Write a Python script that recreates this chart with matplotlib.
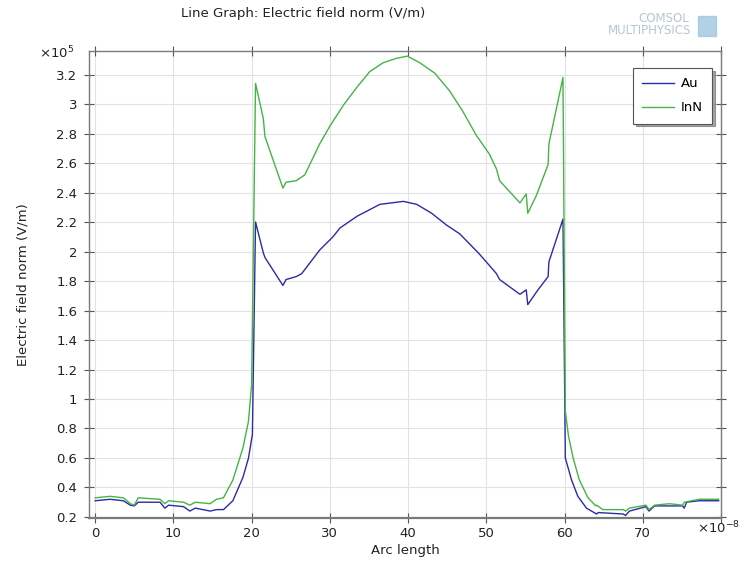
import matplotlib
matplotlib.use("Agg")
import matplotlib.pyplot as plt
from matplotlib.patches import Rectangle
from matplotlib.ticker import FormatStrFormatter

# values (x in 1e-8, y in 1e5 V/m)
arc_au = [0, 1.9, 3.6, 4.5, 5.0, 5.5, 8.3, 8.9, 9.4, 11.3, 12.1, 12.8, 14.7, 15.5,
          16.4, 17.6, 18.9, 19.6, 20.1, 20.5, 21.5, 21.7, 24.0, 24.4, 25.7, 26.4,
          28.7, 30.4, 31.3, 33.5, 36.4, 39.4, 41.1, 43.0, 44.9, 46.6, 49.0, 51.3,
          51.7, 54.3, 55.1, 55.3, 56.6, 57.9, 58.0, 59.8, 60.1, 60.9, 61.7, 62.8,
          64.1, 64.3, 67.5, 67.8, 68.3, 70.4, 70.8, 71.5, 75.1, 75.3, 75.6, 77.2, 79.7]
field_au = [0.31, 0.32, 0.31, 0.28, 0.275, 0.30, 0.30, 0.26, 0.28, 0.27, 0.24, 0.26,
            0.24, 0.25, 0.25, 0.31, 0.47, 0.60, 0.76, 2.20, 1.99, 1.96, 1.77, 1.81,
            1.83, 1.85, 2.01, 2.10, 2.16, 2.24, 2.32, 2.34, 2.32, 2.26, 2.18, 2.12,
            1.99, 1.85, 1.81, 1.71, 1.74, 1.64, 1.74, 1.83, 1.93, 2.22, 0.60, 0.45,
            0.34, 0.26, 0.22, 0.23, 0.22, 0.21, 0.24, 0.27, 0.24, 0.275, 0.275, 0.26,
            0.30, 0.31, 0.31]

arc_inn = [0, 1.9, 3.6, 4.5, 5.0, 5.5, 8.3, 8.9, 9.4, 11.3, 12.1, 12.8, 14.7, 15.5,
           16.4, 17.6, 18.9, 19.6, 20.0, 20.5, 21.5, 21.7, 24.0, 24.4, 25.7, 26.8,
           28.7, 30.0, 31.7, 33.4, 35.1, 36.8, 38.5, 39.9, 41.5, 43.4, 45.3, 47.0,
           48.7, 50.4, 51.3, 51.7, 54.3, 55.1, 55.3, 56.4, 57.9, 58.0, 59.8, 60.1,
           60.5, 61.1, 61.9, 63.0, 64.0, 64.1, 64.9, 67.5, 67.8, 68.3, 70.4, 70.8,
           71.5, 73.4, 75.1, 75.3, 77.2, 79.7]
field_inn = [0.33, 0.34, 0.33, 0.29, 0.28, 0.33, 0.32, 0.29, 0.31, 0.30, 0.28, 0.30,
             0.29, 0.32, 0.33, 0.45, 0.67, 0.85, 1.10, 3.14, 2.90, 2.78, 2.43, 2.47,
             2.48, 2.52, 2.73, 2.85, 2.99, 3.11, 3.22, 3.28, 3.31, 3.325, 3.28, 3.21,
             3.09, 2.95, 2.79, 2.66, 2.56, 2.48, 2.33, 2.39, 2.26, 2.38, 2.59, 2.73,
             3.18, 0.92, 0.75, 0.60, 0.45, 0.33, 0.275, 0.28, 0.25, 0.25, 0.24, 0.26,
             0.28, 0.25, 0.28, 0.29, 0.28, 0.30, 0.32, 0.32]

x_ticks = [0, 10, 20, 30, 40, 50, 60, 70, 80]
x_labels = ["0", "10", "20", "30", "40", "50", "60", "70", ""]
y_ticks = [0.2, 0.4, 0.6, 0.8, 1.0, 1.2, 1.4, 1.6, 1.8, 2.0, 2.2, 2.4, 2.6, 2.8, 3.0, 3.2]

BLUE = "#2b2ba6"
GREEN = "#44b444"
TXT = "#222222"

plt.rcParams["font.family"] = ["DejaVu Sans"]
fig = plt.figure(figsize=(7.46, 5.62), dpi=100)
ax = fig.add_axes([0.1197, 0.0788, 0.9665 - 0.1197, 0.9093 - 0.0788])

ax.plot(arc_au, field_au, color=BLUE, lw=1.0, label="Au", zorder=3)
ax.plot(arc_inn, field_inn, color=GREEN, lw=1.0, label="InN", zorder=3)

ax.set_xlim(-0.75, 80)
ax.set_ylim(0.195, 3.36)
ax.set_xticks(x_ticks)
ax.set_xticklabels(x_labels)
ax.set_yticks(y_ticks)
ax.yaxis.set_major_formatter(FormatStrFormatter("%g"))
ax.grid(True, color="#e2e2e2", lw=0.8, zorder=0)
ax.tick_params(axis="both", direction="inout", length=7, width=0.8, color="#555555",
               labelsize=9.5, labelcolor=TXT, top=True, right=True)
ax.tick_params(axis="x", pad=3)
ax.tick_params(axis="y", pad=5)
for s in ax.spines.values():
    s.set_color("#7a7a7a")
    s.set_linewidth(1.0)
ax.spines["bottom"].set_linewidth(1.6)

ax.set_xlabel("Arc length", fontsize=9.5, color=TXT, labelpad=3)
ax.set_ylabel("Electric field norm (V/m)", fontsize=9.5, color=TXT, labelpad=19)

leg = ax.legend(loc="upper right", bbox_to_anchor=(0.9857, 0.9636), borderaxespad=0,
                fancybox=False, shadow=True, fontsize=9.5, handlelength=2.4,
                borderpad=0.7, labelspacing=0.85, handletextpad=0.5)
leg.get_frame().set_edgecolor("#555555")
leg.get_frame().set_linewidth(0.8)

fig.text(181 / 746, 1 - 13 / 562, "Line Graph: Electric field norm (V/m)",
         fontsize=9.5, color=TXT, ha="left", va="center")
fig.text(39 / 746, 1 - 58 / 562, r"$\times\mathregular{10^5}$", fontsize=9.5,
         color=TXT, ha="left", va="baseline")
fig.text(719 / 746, 1 - 533 / 562, r"$\times\mathregular{10^{-8}}$", fontsize=9.5,
         color=TXT, ha="center", va="baseline")

# faint COMSOL logo in the corner
fig.text(689 / 746, 1 - 19 / 562, "COMSOL", fontsize=8.5, color="#b5c7d3",
         ha="right", va="center")
fig.text(691 / 746, 1 - 31 / 562, "MULTIPHYSICS", fontsize=8.5, color="#b5c7d3",
         ha="right", va="center")
fig.patches.append(Rectangle((698 / 746, 1 - 36 / 562), 18 / 746, 20 / 562,
                             transform=fig.transFigure, color="#9fc6e0", alpha=0.8))

fig.savefig("out.png", dpi=100)
